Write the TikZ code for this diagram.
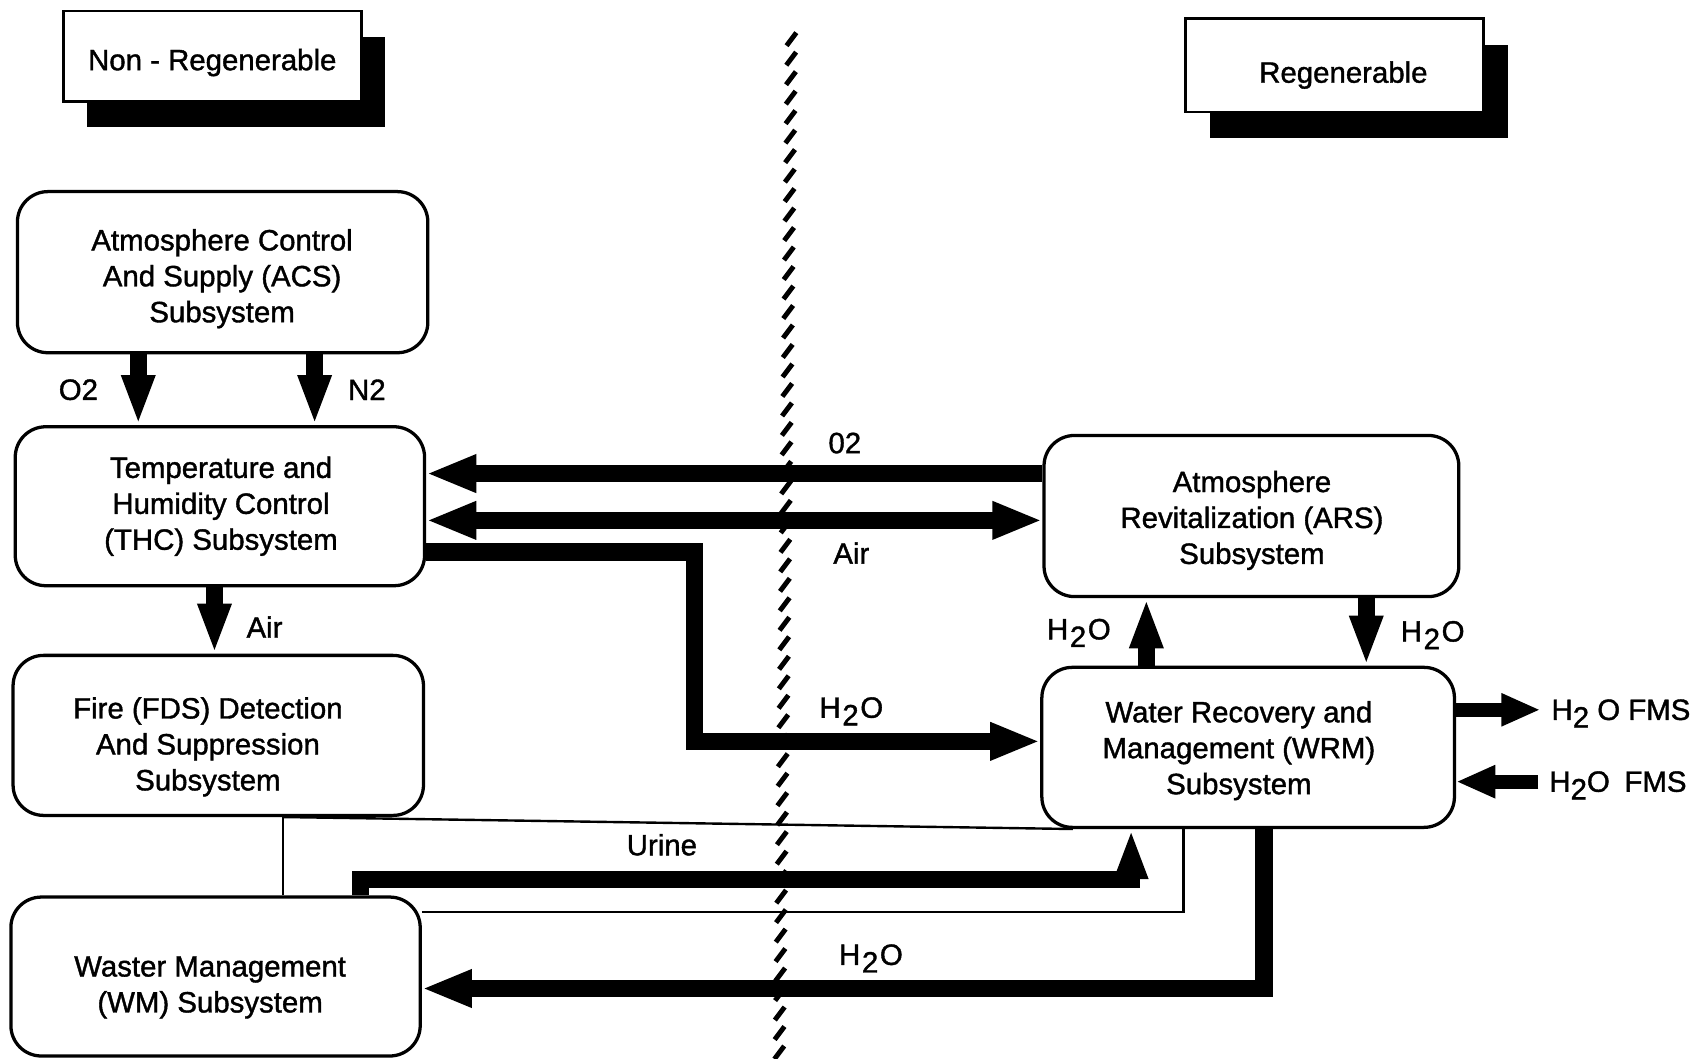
\documentclass[tikz,border=0pt]{standalone}
\usepackage{fontspec}
\setmainfont{Liberation Sans}
\newfontfamily\heavy{Liberation Sans}[FakeBold=1.3]
\usetikzlibrary{arrows.meta,shadows}
\newcommand\Hsub{H\kern1.5pt\smash{\raisebox{-7pt}{2}}\kern1.5pt O}
\begin{document}
\begin{tikzpicture}[x=1pt,y=-1pt,
  box/.style={draw, line width=3pt, rounded corners=28pt, fill=white, inner sep=0pt},
  btext/.style={align=center, font=\heavy\fontsize{27}{33}\selectfont, inner sep=0pt},
  tag/.style={draw, line width=2.5pt, fill=white, inner sep=0pt,
    drop shadow={shadow xshift=22pt, shadow yshift=-24pt, opacity=1, fill=black}},
  lbl/.style={font=\heavy\fontsize{27}{32}\selectfont, inner sep=0pt},
  flow/.style={line width=16pt, -{Triangle[length=46pt,width=32pt]}},
  flowboth/.style={line width=16pt, {Triangle[length=46pt,width=32pt]}-{Triangle[length=46pt,width=32pt]}},
  vflow/.style={line width=16pt, -{Triangle[length=46pt,width=28pt]}},
  sflow/.style={line width=13pt, -{Triangle[length=36pt,width=28pt]}},
  link/.style={line width=2.2pt},
  hatch/.style={line width=4.5pt}
]
\useasboundingbox (0,0) rectangle (1568,972);

% category tags
\node[tag, minimum width=274pt, minimum height=83pt] (nonreg) at (195,51.5) {};
\node[btext] (nonregt) at (195,57.5) {Non - Regenerable};
\node[tag, minimum width=274pt, minimum height=86pt] (reg) at (1226,60) {};
\node[btext] (regt) at (1234,69) {Regenerable};

% subsystem boxes
\node[box, minimum width=377pt, minimum height=148pt] (acs) at (204.5,250) {};
\node[btext] (acst) at (204,256) {Atmosphere Control\\And Supply (ACS)\\Subsystem};
\node[box, minimum width=376pt, minimum height=146pt] (thc) at (202,465) {};
\node[btext] (thct) at (203,465) {Temperature and\\Humidity Control\\(THC) Subsystem};
\node[box, minimum width=377pt, minimum height=147pt] (fds) at (200.5,675.5) {};
\node[btext] (fdst) at (191,686) {Fire (FDS) Detection\\And Suppression\\Subsystem};
\node[box, minimum width=376pt, minimum height=146pt] (wm) at (198,897) {};
\node[btext] (wmt) at (193,907) {Waster Management\\(WM) Subsystem};
\node[box, minimum width=381pt, minimum height=148pt] (ars) at (1149.5,474) {};
\node[btext] (arst) at (1150,478) {Atmosphere\\Revitalization (ARS)\\Subsystem};
\node[box, minimum width=379pt, minimum height=147pt] (wrm) at (1146.5,686.5) {};
\node[btext] (wrmt) at (1138,689.5) {Water Recovery and\\Management (WRM)\\Subsystem};

% helper coordinates
\coordinate (xO) at (127,0);
\coordinate (xN) at (289,0);
\coordinate (xAir) at (197,0);
\coordinate (yO2) at (0,435);
\coordinate (yAir) at (0,478);
\coordinate (yH1) at (0,507);
\coordinate (xH1) at (638,0);
\coordinate (yH2) at (0,681);
\coordinate (xA1) at (1053,0);
\coordinate (xA2) at (1255,0);
\coordinate (xU1) at (331,0);
\coordinate (yU) at (0,808);
\coordinate (xU2) at (1039,0);
\coordinate (xT) at (260,0);
\coordinate (yT2) at (0,838);
\coordinate (xT2) at (1087,0);
\coordinate (xW) at (1161,0);
\coordinate (yW) at (0,908);

% labels
\node[lbl] (lO2) at (72,358) {O2};
\node[lbl] (lN2) at (337,358) {N2};
\node[lbl] (lAir1) at (243,576) {Air};
\node[lbl] (lO2b) at (776,407) {02};
\node[lbl] (lAir2) at (782,508) {Air};
\node[lbl] (lH1) at (782,650) {\Hsub};
\node[lbl] (lH2) at (991,578) {\Hsub};
\node[lbl] (lH3) at (1316,580) {\Hsub};
\node[lbl, anchor=west] (fms1) at (1425,652) {H\smash{\raisebox{-7pt}{2}} O FMS};
\node[lbl, anchor=west] (fms2) at (1423,718) {H\smash{\raisebox{-7pt}{2}}O\enspace FMS};
\node[lbl] (lU) at (608,776) {Urine};
\node[lbl] (lH4) at (800,877) {\Hsub};

% thin links
\draw[link] (wm.north -| xT) -- (fds.south -| xT);
\draw[link] (fds.south -| xT) -- ([xshift=30pt]wrm.south west);
\draw[link] (wm.east |- yT2) -| (wrm.south -| xT2);

% flows
\draw[vflow] (acs.south -| xO) -- (thc.north -| xO);
\draw[vflow] (acs.south -| xN) -- (thc.north -| xN);
\draw[vflow] (thc.south -| xAir) -- (fds.north -| xAir);
\draw[flow] (ars.west |- yO2) -- (thc.east |- yO2);
\draw[flowboth] (thc.east |- yAir) -- (ars.west |- yAir);
\draw[flow] (thc.east |- yH1) -| (xH1 |- yH2) -- (wrm.west |- yH2);
\draw[vflow] (wrm.north -| xA1) -- (ars.south -| xA1);
\draw[vflow] (ars.south -| xA2) -- (wrm.north -| xA2);
\draw[sflow] (wrm.east |- fms1) -- ([xshift=-10pt]fms1.west);
\draw[sflow] ([xshift=-10pt]fms2.west) -- (wrm.east |- fms2);
\draw[vflow] (wm.north -| xU1) |- (xU2 |- yU) -- (wrm.south -| xU2);
\draw[flow] (wrm.south -| xW) |- (wm.east |- yW);

% hatched boundary
\foreach \i in {0,...,52} {
  \pgfmathsetmacro\yy{36+\i*17.9}
  \pgfmathsetmacro\xx{727-(\yy-36)*0.012}
  \draw[hatch] (\xx-4.5,\yy+6) -- (\xx+4.5,\yy-6);
}
\end{tikzpicture}
\end{document}
